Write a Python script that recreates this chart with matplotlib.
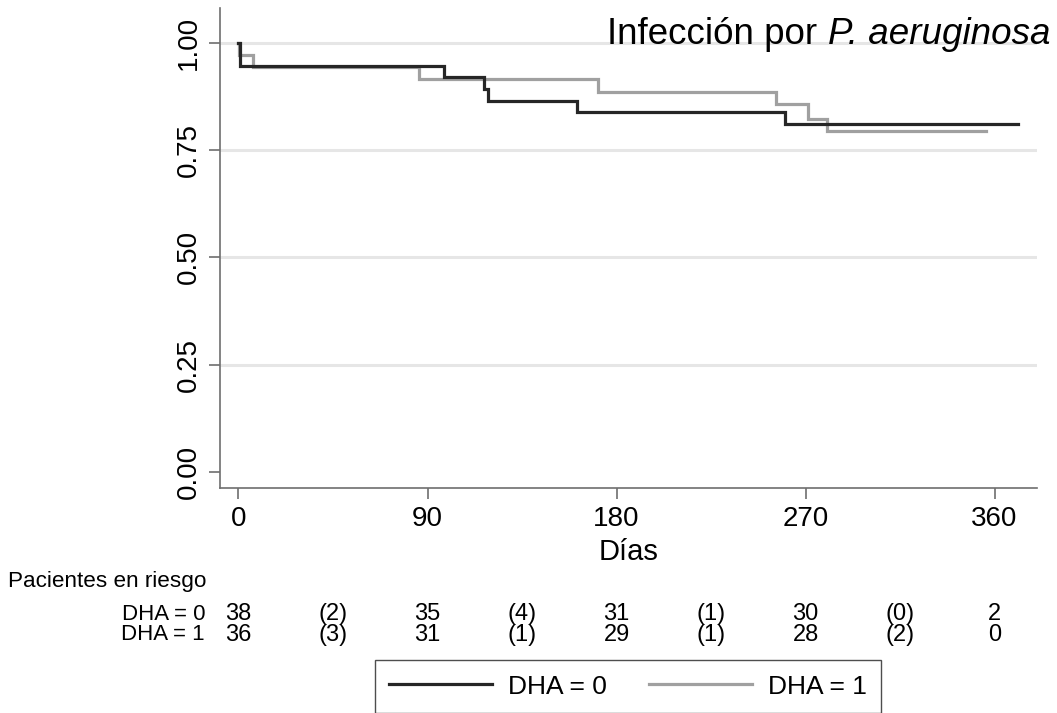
import matplotlib
matplotlib.use("Agg")
import matplotlib.pyplot as plt
from matplotlib import font_manager as fm
from matplotlib import transforms as mtrans
from matplotlib.lines import Line2D

# ---------------- data ----------------
event_days_0 = [0.8, 98, 117, 119, 161, 260]
surv_0 = [0.947, 0.920, 0.893, 0.866, 0.839, 0.812]
end_day_0 = 371

event_days_1 = [0.1, 7, 86, 171, 256, 271, 280]
surv_1 = [0.972, 0.944, 0.916, 0.886, 0.857, 0.823, 0.794]
end_day_1 = 356

group_labels = ["DHA = 0", "DHA = 1"]
x_ticks = [0, 90, 180, 270, 360]
y_ticks = [0.00, 0.25, 0.50, 0.75, 1.00]
y_tick_labels = ["0.00", "0.25", "0.50", "0.75", "1.00"]

risk_days = [0, 90, 180, 270, 360]
risk_0 = [38, 35, 31, 30, 2]
risk_1 = [36, 31, 29, 28, 0]
interval_days = [45, 135, 225, 315]
events_0 = [2, 4, 1, 0]
events_1 = [3, 1, 1, 2]

title_plain = "Infección por "
title_italic = "P. aeruginosa"
x_label = "Días"
risk_title = "Pacientes en riesgo"

# ---------------- fonts ----------------
def has_font(name):
    try:
        fm.findfont(fm.FontProperties(family=name), fallback_to_default=False)
        return True
    except Exception:
        return False

REG = "Liberation Sans" if has_font("Liberation Sans") else "DejaVu Sans"
plt.rcParams["font.family"] = [REG, "DejaVu Sans"]

col0 = "#262626"
col1 = "#a0a0a0"
spine_col = "#6e6e6e"

W, H = 1057, 713
fig = plt.figure(figsize=(W / 100, H / 100), dpi=100)
ax = fig.add_axes([220 / W, 1 - 488 / H, (1037 - 220) / W, (488 - 8) / H])

def km_xy(days, surv, end):
    xs = [0] + list(days) + [end]
    ys = [1.0] + list(surv) + [surv[-1]]
    return xs, ys

x0, y0 = km_xy(event_days_0, surv_0, end_day_0)
x1, y1 = km_xy(event_days_1, surv_1, end_day_1)
ax.step(x1, y1, where="post", color=col1, lw=2.3, zorder=3, solid_joinstyle="miter")
ax.step(x0, y0, where="post", color=col0, lw=2.3, zorder=4, solid_joinstyle="miter")

ax.set_xlim(-8.8, 380.2)
ax.set_ylim(-0.038, 1.082)

for v in y_ticks[1:]:
    ax.axhline(v, color="#e6e6e6", lw=2.2, zorder=1)

ax.set_xticks(x_ticks)
ax.set_xticklabels([str(t) for t in x_ticks], fontsize=20)
ax.set_yticks(y_ticks)
ax.set_yticklabels(y_tick_labels, fontsize=20, rotation=90, va="center")
ax.tick_params(axis="both", direction="out", length=8, width=1.2, color=spine_col)
ax.tick_params(axis="x", pad=5)
ax.tick_params(axis="y", pad=5)

for s in ["top", "right"]:
    ax.spines[s].set_visible(False)
for s in ["left", "bottom"]:
    ax.spines[s].set_color(spine_col)
    ax.spines[s].set_linewidth(1.2)

ax.set_xlabel(x_label, fontsize=21, labelpad=4)

# title with italic part
fig.canvas.draw()
renderer = fig.canvas.get_renderer()
t_it = fig.text(1050 / W, 1 - 44 / H, title_italic, fontsize=26.5, style="italic",
                ha="right", va="baseline")
bb = t_it.get_window_extent(renderer=renderer)
fig.text(bb.x0 / W, 1 - 44 / H, title_plain, fontsize=26.5,
         ha="right", va="baseline")

# risk table
fig.text(8 / W, 1 - 581 / H, risk_title, fontsize=16.2, ha="left", va="center")
blend = mtrans.blended_transform_factory(ax.transData, fig.transFigure)
row_y = [1 - 614 / H, 1 - 635 / H]
for r, (lab, risk, ev) in enumerate([(group_labels[0], risk_0, events_0),
                                     (group_labels[1], risk_1, events_1)]):
    fig.text(205 / W, row_y[r], lab, fontsize=16, ha="right", va="center")
    for d, n in zip(risk_days, risk):
        ax.text(d, row_y[r], str(n), transform=blend, fontsize=17,
                ha="center", va="center", clip_on=False)
    for d, n in zip(interval_days, ev):
        ax.text(d, row_y[r], f"({n})", transform=blend, fontsize=17,
                ha="center", va="center", clip_on=False)

handles = [Line2D([], [], color=col0, lw=2.3), Line2D([], [], color=col1, lw=2.3)]
leg = fig.legend(handles, group_labels, loc="upper center",
                 bbox_to_anchor=(628 / W, 1 - 660 / H), ncol=2, fontsize=19,
                 frameon=True, fancybox=False, edgecolor="#222222",
                 handlelength=3.9, handletextpad=0.6, columnspacing=1.6,
                 borderpad=0.55, borderaxespad=0.0)
leg.get_frame().set_linewidth(1.0)

fig.savefig("out.png", dpi=100)
